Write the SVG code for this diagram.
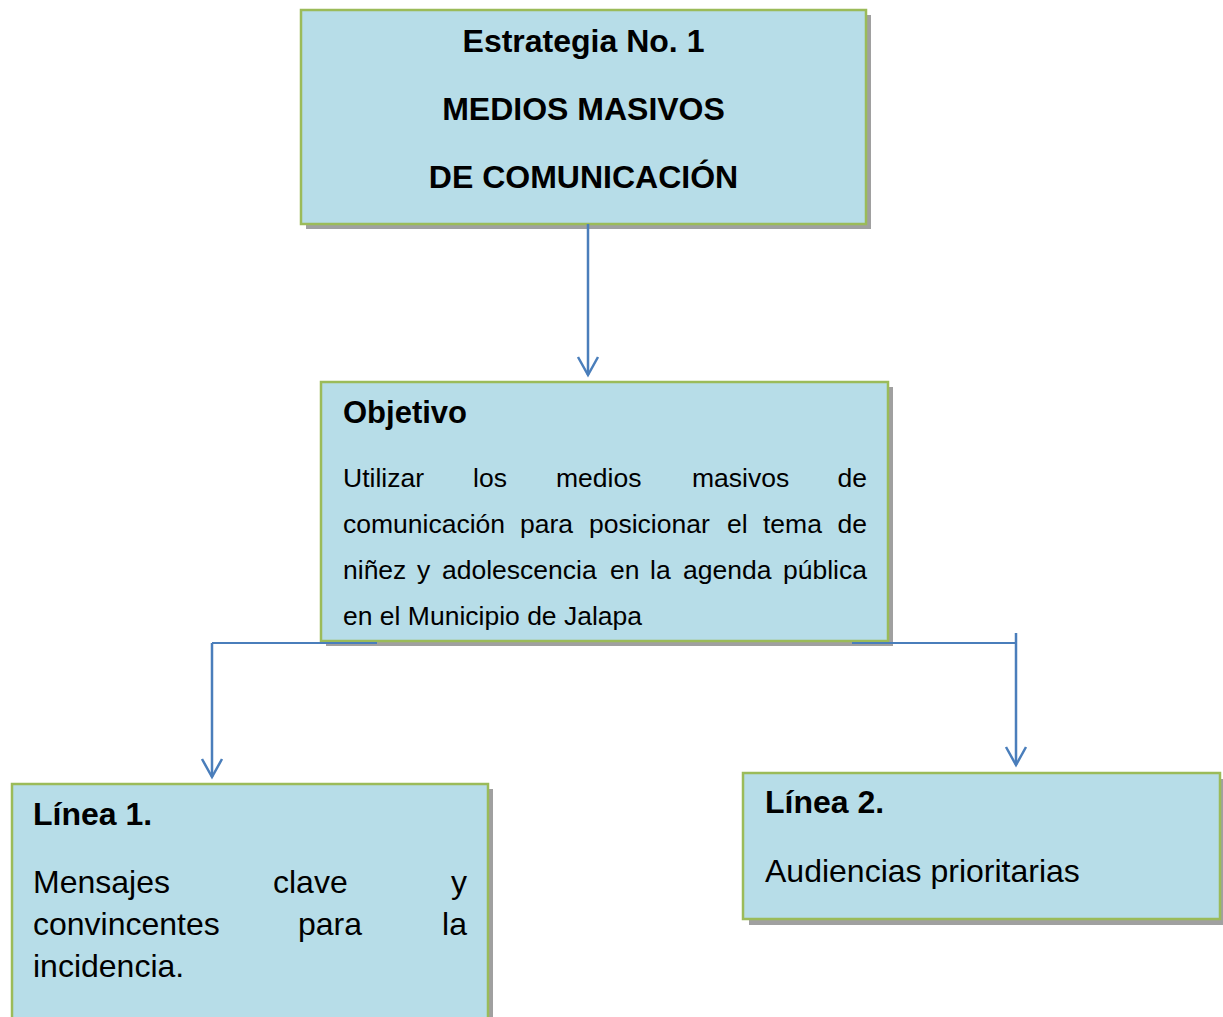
<svg xmlns="http://www.w3.org/2000/svg" width="1223" height="1017" viewBox="0 0 1223 1017">
<style>
.shadow{fill:#a0a0a0;}
.box{fill:#b7dde8;stroke:#9bbb59;stroke-width:2.5;}
.t{font-family:"Liberation Sans",Arial,sans-serif;fill:#000;}
.b{font-weight:bold;}
.big{font-size:32px;}
.small{font-size:26.5px;}
.con{fill:none;stroke:#4a7ebb;stroke-width:2.5;}
.thin{stroke-width:1.8;}
</style>
<defs>
<marker id="arr" markerUnits="userSpaceOnUse" markerWidth="30" markerHeight="30" orient="auto" overflow="visible" refX="0" refY="0">
<path d="M -18 -10 L 0 0 L -18 10" fill="none" stroke="#4a7ebb" stroke-width="2.5"/>
</marker>
</defs>
<rect width="1223" height="1017" fill="#fff"/>
<g id="node-estrategia">
<rect class="shadow" x="306" y="15" width="565" height="214"/>
<rect class="box" x="301" y="10" width="565" height="214"/>
<text class="t b big" x="583.5" y="52" text-anchor="middle">Estrategia No. 1</text>
<text class="t b big" x="583.5" y="120" text-anchor="middle">MEDIOS MASIVOS</text>
<text class="t b big" x="583.5" y="188" text-anchor="middle">DE COMUNICACIÓN</text>
</g>
<g id="node-objetivo">
<rect class="shadow" x="326" y="387" width="567" height="259"/>
<rect class="box" x="321" y="382" width="567" height="259"/>
<text class="t b" font-size="31" x="343" y="423">Objetivo</text>
<text class="t small" y="487"><tspan x="343">Utilizar</tspan><tspan x="473">los</tspan><tspan x="556">medios</tspan><tspan x="692">masivos</tspan><tspan x="867" text-anchor="end">de</tspan></text>
<text class="t small" y="533"><tspan x="343">comunicación</tspan><tspan x="520">para</tspan><tspan x="589">posicionar</tspan><tspan x="727">el</tspan><tspan x="763">tema</tspan><tspan x="867" text-anchor="end">de</tspan></text>
<text class="t small" y="579"><tspan x="343">niñez</tspan><tspan x="417">y</tspan><tspan x="442">adolescencia</tspan><tspan x="610">en</tspan><tspan x="650">la</tspan><tspan x="683">agenda</tspan><tspan x="867" text-anchor="end">pública</tspan></text>
<text class="t small" x="343" y="625">en el Municipio de Jalapa</text>
</g>
<g id="node-linea1">
<rect class="shadow" x="17" y="789" width="476" height="240"/>
<rect class="box" x="12" y="784" width="476" height="240"/>
<text class="t b big" x="33" y="825">Línea 1.</text>
<text class="t big" y="893"><tspan x="33">Mensajes</tspan><tspan x="273">clave</tspan><tspan x="467" text-anchor="end">y</tspan></text>
<text class="t big" y="935"><tspan x="33">convincentes</tspan><tspan x="298">para</tspan><tspan x="467" text-anchor="end">la</tspan></text>
<text class="t big" x="33" y="977">incidencia.</text>
</g>
<g id="node-linea2">
<rect class="shadow" x="749" y="779" width="477" height="146"/>
<rect class="box" x="743" y="773" width="477" height="146"/>
<text class="t b big" x="765" y="813">Línea 2.</text>
<text class="t big" x="765" y="882">Audiencias prioritarias</text>
</g>
<g id="connectors">
<line class="con" x1="588" y1="224" x2="588" y2="375" marker-end="url(#arr)"/>
<line class="con thin" x1="212" y1="643" x2="377" y2="643"/>
<line class="con" x1="212" y1="643" x2="212" y2="777" marker-end="url(#arr)"/>
<line class="con thin" x1="852" y1="643" x2="1016" y2="643"/>
<line class="con" x1="1016" y1="633" x2="1016" y2="765" marker-end="url(#arr)"/>
</g>
</svg>
